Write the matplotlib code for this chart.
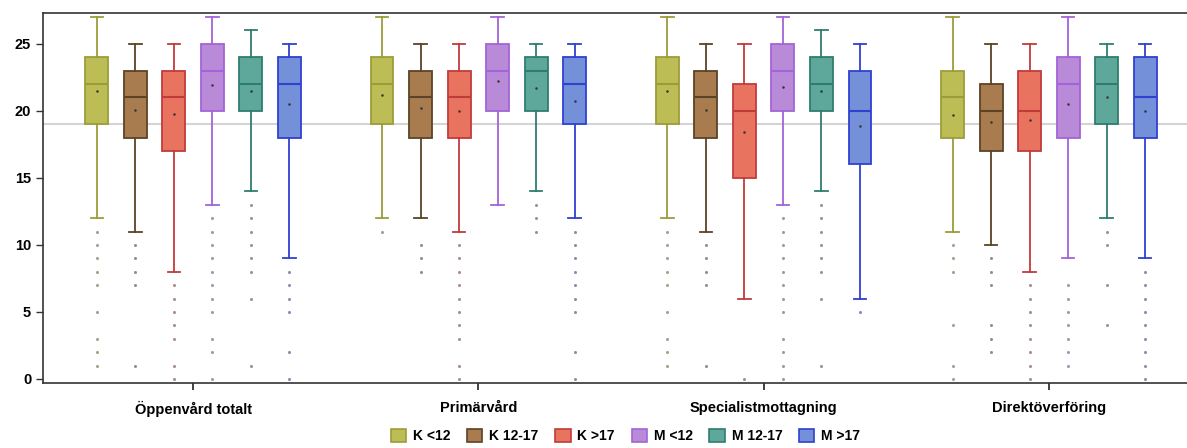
import numpy as np
import matplotlib
matplotlib.use("Agg")
import matplotlib.pyplot as plt
from matplotlib.patches import Patch
from matplotlib.colors import to_rgb

plt.rcParams["font.family"] = ["Liberation Sans", "DejaVu Sans"]

groups = ["Öppenvård totalt", "Primärvård", "Specialistmottagning", "Direktöverföring"]
series = ["K <12", "K 12-17", "K >17", "M <12", "M 12-17", "M >17"]

fill_colors = ["#bdbd55", "#a97c50", "#e8735f", "#b98ad8", "#5da89a", "#7390d8"]
edge_colors = ["#9c9c3a", "#5c4325", "#c23b3b", "#a463d8", "#2f7d6e", "#3040d0"]

# rows = groups, columns = series
whis_hi = [[27, 25, 25, 27, 26, 25],
           [27, 25, 25, 27, 25, 25],
           [27, 25, 25, 27, 26, 25],
           [27, 25, 25, 27, 25, 25]]
q3 = [[24, 23, 23, 25, 24, 24],
      [24, 23, 23, 25, 24, 24],
      [24, 23, 22, 25, 24, 23],
      [23, 22, 23, 24, 24, 24]]
medians = [[22, 21, 21, 23, 22, 22],
           [22, 21, 21, 23, 23, 22],
           [22, 21, 20, 23, 22, 20],
           [21, 20, 20, 22, 22, 21]]
q1 = [[19, 18, 17, 20, 20, 18],
      [19, 18, 18, 20, 20, 19],
      [19, 18, 15, 20, 20, 16],
      [18, 17, 17, 18, 19, 18]]
whis_lo = [[12, 11, 8, 13, 14, 9],
           [12, 12, 11, 13, 14, 12],
           [12, 11, 6, 13, 14, 6],
           [11, 10, 8, 9, 12, 9]]
means = [[21.5, 20.1, 19.8, 21.9, 21.5, 20.5],
         [21.2, 20.2, 20.0, 22.2, 21.7, 20.7],
         [21.5, 20.1, 18.4, 21.8, 21.5, 18.9],
         [19.7, 19.2, 19.3, 20.5, 21.0, 20.0]]
outliers = [
    [[11, 10, 9, 8, 7, 5, 3, 2, 1], [10, 9, 8, 7, 1], [7, 6, 5, 4, 3, 1, 0],
     [12, 11, 10, 9, 8, 7, 6, 5, 3, 2, 0], [13, 12, 11, 10, 9, 8, 6, 1], [8, 7, 6, 5, 2, 0]],
    [[11], [10, 9, 8], [10, 9, 8, 7, 6, 5, 4, 3, 1, 0],
     [], [13, 12, 11], [11, 10, 9, 8, 7, 6, 5, 2, 0]],
    [[11, 10, 9, 8, 7, 5, 3, 2, 1], [10, 9, 8, 7, 1], [0],
     [12, 11, 10, 9, 8, 7, 6, 5, 3, 2, 1, 0], [13, 12, 11, 10, 9, 8, 6, 1], [5]],
    [[10, 9, 8, 4, 1, 0], [9, 8, 7, 4, 3, 2], [7, 6, 5, 4, 3, 2, 1, 0],
     [7, 6, 5, 4, 3, 2, 1], [11, 10, 7, 4], [8, 7, 6, 5, 4, 3, 2, 1, 0]],
]
ref_level = 19

fig = plt.figure(figsize=(11.87, 4.48), dpi=100)
ax = fig.add_axes([43 / 1187, 65 / 448, 1 - 43 / 1187, 370 / 448])

ax.axhline(ref_level, color="#d4d4d4", lw=1.5, zorder=0)

step = 0.135
width = 0.08
for g in range(len(groups)):
    for s in range(len(series)):
        pos = g + (s - 2.5) * step
        stats = [{
            "whislo": whis_lo[g][s], "q1": q1[g][s], "med": medians[g][s],
            "q3": q3[g][s], "whishi": whis_hi[g][s], "mean": means[g][s],
            "fliers": np.array(outliers[g][s]),
        }]
        ec = edge_colors[s]
        dark = tuple(0.45 * c for c in to_rgb(ec))
        ax.bxp(stats, positions=[pos], widths=width, patch_artist=True,
               showmeans=True, showfliers=True, manage_ticks=False,
               boxprops=dict(facecolor=fill_colors[s], edgecolor=ec, lw=1.3),
               medianprops=dict(color=ec, lw=1.5),
               whiskerprops=dict(color=ec, lw=1.3),
               capprops=dict(color=ec, lw=1.3),
               capwidths=width * 0.55,
               meanprops=dict(marker="o", markersize=1.8, markerfacecolor="#333333",
                              markeredgecolor="none"),
               flierprops=dict(marker="o", markersize=2.2, markerfacecolor=dark,
                               markeredgecolor="none", alpha=0.5))

ax.set_xlim(-0.526, 3.484)
ax.set_ylim(-0.3, 27.3)
ax.set_xticks(range(len(groups)))
ax.set_xticklabels(groups, fontsize=10.5, fontweight="bold")
ax.set_yticks([0, 5, 10, 15, 20, 25])
ax.tick_params(axis="y", labelsize=10.5, length=5, width=1, color="#333333")
ax.tick_params(axis="x", length=5, width=1.3, pad=8, color="#333333")
for lab in ax.get_yticklabels():
    lab.set_fontweight("bold")
for side in ["left", "bottom", "top"]:
    ax.spines[side].set_color("#333333")
    ax.spines[side].set_linewidth(1.2)
ax.spines["right"].set_visible(False)

handles = [Patch(facecolor=fill_colors[i], edgecolor=edge_colors[i], lw=1.2, label=series[i])
           for i in range(len(series))]
fig.legend(handles=handles, loc="center", bbox_to_anchor=(0.527, 0.027), ncol=6,
           frameon=False, handlelength=1.1, handleheight=1.1, handletextpad=0.5,
           columnspacing=1.2, prop={"weight": "bold", "size": 10})

fig.savefig("out.png", dpi=100)
